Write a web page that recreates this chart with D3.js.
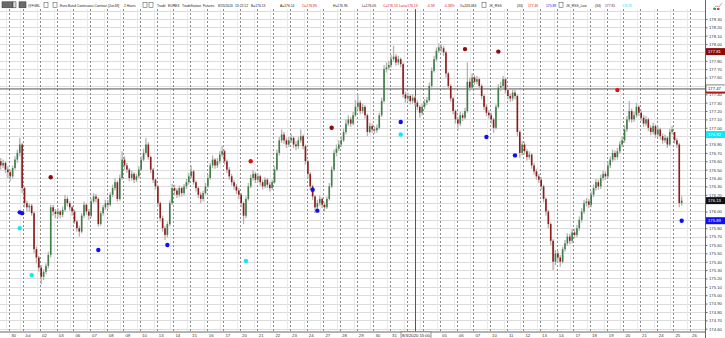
<!DOCTYPE html>
<html><head><meta charset="utf-8">
<script src="https://cdn.jsdelivr.net/npm/d3@7"></script>
<style>html,body{margin:0;padding:0;background:#fff;overflow:hidden}svg{display:block}</style>
</head><body><svg id="c" width="725" height="338"></svg>
<script>
// ---------- DATA ----------
const dayLabels = ["30","Jul","02","03","06","07","08","09","10","13","14","15","16","17","20","21","22","23","24","27","28","29","30","31","Aug","04","05","06","07","10","11","12","13","14","17","18","19","20","21","24","25","26"];
const dayFirstBar = [4,10,17,24,31,38,45,52,59,66,73,80,87,94,101,108,115,122,129,136,143,150,157,164,171,178,185,192,199,206,213,220,227,234,241,248,255,262,269,276,283,290];

const opens = [
176.60,176.55,176.58,176.50,
176.47,176.42,176.52,176.62,176.70,176.80,
176.28,176.10,176.05,176.07,175.98,175.55,175.45,
175.33,175.22,175.28,175.35,175.48,176.05,176.00,
175.97,176.00,175.96,176.02,176.15,176.10,176.05,
176.00,175.88,175.80,175.76,175.95,176.08,176.00,
175.95,176.12,176.18,176.15,175.85,175.98,176.05,
176.10,176.08,176.20,176.28,176.35,176.15,176.40,
176.62,176.55,176.50,176.40,176.45,176.38,176.42,
176.50,176.62,176.70,176.80,176.65,176.50,176.38,
176.30,176.10,175.92,175.80,175.72,175.85,176.10,
176.28,176.25,176.20,176.28,176.22,176.30,176.35,
176.42,176.48,176.35,176.28,176.20,176.15,176.22,
176.30,176.40,176.55,176.62,176.55,176.60,176.68,
176.72,176.60,176.50,176.42,176.35,176.30,176.25,
176.20,176.10,175.95,176.15,176.30,176.40,176.45,
176.38,176.42,176.35,176.30,176.38,176.32,176.28,
176.35,176.50,176.70,176.85,176.92,176.85,176.80,
176.85,176.88,176.80,176.78,176.85,176.90,176.78,
176.60,176.45,176.30,176.18,176.05,176.10,176.15,
176.08,176.05,176.15,176.30,176.50,176.70,176.75,
176.80,176.85,176.95,177.05,177.10,177.05,177.15,
177.25,177.30,177.20,177.25,177.15,176.95,177.02,
176.98,176.97,177.00,177.15,177.32,177.70,177.72,
177.75,177.82,177.85,177.78,177.82,177.76,177.40,
177.35,177.38,177.32,177.36,177.30,177.25,177.18,
177.25,177.30,177.33,177.50,177.68,177.82,177.92,
177.96,177.95,177.90,177.65,177.50,177.35,177.20,
177.10,177.05,177.15,177.12,177.20,177.55,177.48,
177.60,177.55,177.58,177.50,177.38,177.25,177.18,
177.15,177.10,177.00,177.25,177.48,177.50,177.58,
177.45,177.38,177.35,177.42,177.38,176.95,176.70,
176.80,176.72,176.65,176.68,176.55,176.48,176.42,
176.38,176.30,176.15,176.00,175.85,175.65,175.40,
175.50,175.45,175.40,175.55,175.62,175.70,175.65,
175.75,175.72,175.80,175.90,176.00,176.10,176.12,
176.08,176.20,176.28,176.35,176.30,176.40,176.45,
176.42,176.55,176.62,176.70,176.65,176.72,176.80,
176.85,176.98,177.10,177.20,177.10,177.15,177.25,
177.18,177.12,177.05,177.10,177.00,176.95,177.02,
176.92,176.98,176.90,176.85,176.88,176.80,176.95,
176.95,176.85,176.80,176.10];

const highs = [
176.64,176.62,176.60,176.54,
176.50,176.55,176.66,176.74,176.88,176.82,
176.30,176.13,176.10,176.09,176.00,175.58,175.47,
175.36,175.31,175.38,175.52,176.08,176.08,176.03,
176.04,176.02,176.06,176.20,176.18,176.12,176.07,
176.02,175.90,175.83,175.98,176.12,176.10,176.03,
176.15,176.22,176.21,176.17,176.01,176.08,176.14,
176.14,176.23,176.32,176.40,176.37,176.44,176.72,
176.66,176.58,176.52,176.49,176.47,176.45,176.54,
176.66,176.75,176.88,176.83,176.67,176.52,176.40,
176.32,176.12,175.95,175.83,175.88,176.13,176.33,
176.32,176.28,176.31,176.30,176.33,176.39,176.46,
176.55,176.50,176.37,176.30,176.23,176.25,176.34,
176.44,176.58,176.67,176.64,176.64,176.72,176.78,
176.74,176.62,176.53,176.45,176.38,176.33,176.28,
176.22,176.12,176.18,176.34,176.44,176.50,176.47,
176.46,176.44,176.38,176.41,176.40,176.35,176.38,
176.54,176.74,176.89,176.98,176.95,176.88,176.89,
176.93,176.90,176.84,176.89,176.98,176.92,176.80,
176.62,176.47,176.32,176.20,176.14,176.19,176.17,
176.11,176.18,176.34,176.54,176.74,176.80,176.85,
176.90,176.99,177.10,177.15,177.13,177.19,177.33,
177.40,177.33,177.29,177.27,177.17,177.06,177.05,
177.02,177.04,177.18,177.36,177.75,177.78,177.80,
177.87,177.98,177.88,177.86,177.84,177.78,177.43,
177.42,177.40,177.40,177.38,177.33,177.27,177.29,
177.34,177.37,177.54,177.72,177.86,177.96,178.01,
178.00,177.98,177.92,177.67,177.52,177.37,177.22,
177.13,177.19,177.18,177.24,177.78,177.60,177.65,
177.63,177.62,177.60,177.52,177.40,177.28,177.21,
177.18,177.12,177.28,177.52,177.55,177.62,177.60,
177.48,177.41,177.46,177.45,177.40,176.97,176.84,
176.83,176.75,176.72,176.70,176.58,176.51,176.45,
176.41,176.32,176.17,176.02,175.87,175.67,175.54,
175.53,175.48,175.58,175.66,175.74,175.73,175.79,
175.79,175.84,175.94,176.04,176.14,176.16,176.15,
176.24,176.32,176.39,176.38,176.44,176.49,176.48,
176.59,176.66,176.74,176.73,176.76,176.84,176.90,
177.03,177.14,177.32,177.23,177.19,177.30,177.27,
177.21,177.15,177.14,177.12,177.03,177.06,177.04,
177.02,177.00,176.93,176.92,176.90,176.99,177.02,
176.95,176.88,176.82,176.18];

const lows = [
176.50,176.52,176.46,176.40,
176.36,176.39,176.50,176.58,176.66,176.22,
176.05,176.00,176.00,175.95,175.50,175.38,175.28,
175.13,175.18,175.25,175.32,175.45,175.95,175.92,
175.93,175.92,175.93,176.00,176.06,176.01,175.95,
175.85,175.76,175.70,175.74,175.92,175.96,175.90,
175.93,176.10,176.11,175.82,175.83,175.95,176.02,
176.03,176.06,176.17,176.25,176.12,176.13,176.38,
176.50,176.46,176.36,176.37,176.34,176.35,176.40,
176.48,176.60,176.68,176.62,176.46,176.34,176.26,
176.06,175.88,175.76,175.66,175.69,175.83,176.08,
176.20,176.16,176.17,176.18,176.19,176.27,176.32,
176.40,176.32,176.24,176.16,176.10,176.12,176.20,
176.28,176.38,176.52,176.51,176.52,176.57,176.65,
176.56,176.46,176.38,176.31,176.26,176.21,176.15,
176.05,175.85,175.92,176.13,176.28,176.37,176.34,
176.35,176.31,176.26,176.28,176.28,176.24,176.26,
176.33,176.48,176.67,176.82,176.81,176.76,176.77,
176.82,176.76,176.73,176.75,176.82,176.74,176.56,
176.40,176.26,176.14,175.98,176.02,176.07,176.04,
176.00,176.03,176.13,176.28,176.48,176.66,176.72,
176.77,176.83,176.92,177.02,177.01,177.03,177.13,
177.22,177.16,177.17,177.11,176.90,176.93,176.94,
176.93,176.94,176.98,177.13,177.30,177.66,177.69,
177.72,177.79,177.74,177.75,177.72,177.36,177.30,
177.31,177.28,177.29,177.26,177.21,177.12,177.15,
177.22,177.27,177.31,177.48,177.66,177.79,177.89,
177.91,177.86,177.60,177.46,177.31,177.16,177.05,
176.97,177.02,177.08,177.10,177.18,177.44,177.45,
177.51,177.52,177.46,177.34,177.21,177.14,177.11,
177.05,176.94,176.98,177.23,177.44,177.47,177.41,
177.34,177.31,177.32,177.34,176.90,176.64,176.67,
176.68,176.61,176.62,176.51,176.44,176.38,176.34,
176.26,176.11,175.95,175.80,175.60,175.30,175.36,
175.40,175.34,175.38,175.52,175.59,175.61,175.62,
175.68,175.69,175.77,175.87,175.97,176.06,176.04,
176.05,176.17,176.25,176.26,176.27,176.37,176.38,
176.40,176.52,176.59,176.61,176.62,176.69,176.77,
176.82,176.95,177.07,177.06,177.07,177.12,177.14,
177.08,177.01,177.02,176.96,176.91,176.92,176.88,
176.89,176.86,176.81,176.82,176.76,176.78,176.92,
176.81,176.76,176.05,176.07];

const closes = [
176.55,176.58,176.50,176.47,
176.42,176.52,176.62,176.70,176.80,176.28,
176.10,176.05,176.07,175.98,175.55,175.45,175.33,
175.22,175.28,175.35,175.48,176.05,176.00,175.97,
176.00,175.96,176.02,176.15,176.10,176.05,176.00,
175.88,175.80,175.76,175.95,176.08,176.00,175.95,
176.12,176.18,176.15,175.85,175.98,176.05,176.10,
176.08,176.20,176.28,176.35,176.15,176.40,176.62,
176.55,176.50,176.40,176.45,176.38,176.42,176.50,
176.62,176.70,176.80,176.65,176.50,176.38,176.30,
176.10,175.92,175.80,175.72,175.85,176.10,176.28,
176.25,176.20,176.28,176.22,176.30,176.35,176.42,
176.48,176.35,176.28,176.20,176.15,176.22,176.30,
176.40,176.55,176.62,176.55,176.60,176.68,176.72,
176.60,176.50,176.42,176.35,176.30,176.25,176.20,
176.10,175.95,176.15,176.30,176.40,176.45,176.38,
176.42,176.35,176.30,176.38,176.32,176.28,176.35,
176.50,176.70,176.85,176.92,176.85,176.80,176.85,
176.88,176.80,176.78,176.85,176.90,176.78,176.60,
176.45,176.30,176.18,176.05,176.10,176.15,176.08,
176.05,176.15,176.30,176.50,176.70,176.75,176.80,
176.85,176.95,177.05,177.10,177.05,177.15,177.25,
177.30,177.20,177.25,177.15,176.95,177.02,176.98,
176.97,177.00,177.15,177.32,177.70,177.72,177.75,
177.82,177.85,177.78,177.82,177.76,177.40,177.35,
177.38,177.32,177.36,177.30,177.25,177.18,177.25,
177.30,177.33,177.50,177.68,177.82,177.92,177.96,
177.95,177.90,177.65,177.50,177.35,177.20,177.10,
177.05,177.15,177.12,177.20,177.55,177.48,177.60,
177.55,177.58,177.50,177.38,177.25,177.18,177.15,
177.10,177.00,177.25,177.48,177.50,177.58,177.45,
177.38,177.35,177.42,177.38,176.95,176.70,176.80,
176.72,176.65,176.68,176.55,176.48,176.42,176.38,
176.30,176.15,176.00,175.85,175.65,175.40,175.50,
175.45,175.40,175.55,175.62,175.70,175.65,175.75,
175.72,175.80,175.90,176.00,176.10,176.12,176.08,
176.20,176.28,176.35,176.30,176.40,176.45,176.42,
176.55,176.62,176.70,176.65,176.72,176.80,176.85,
176.98,177.10,177.20,177.10,177.15,177.25,177.18,
177.12,177.05,177.10,177.00,176.95,177.02,176.92,
176.98,176.90,176.85,176.88,176.80,176.95,176.98,
176.85,176.80,176.10,176.13];

// indicator dots: [bar index, price]
const rssHighDots = [[21,176.41],[139,177.00],[195,177.94],[209,177.91]];     // dark red
const rssDots = [[105,176.60],[259,177.45]];                                   // red
const rssLowDots = [[8,175.99],[9,175.98],[41,175.54],[70,175.60],[131,176.26],[133,176.01],[168,177.07],[204,176.89],[216,176.67],[286,175.89]]; // blue
const rssLowLowDots = [[8,175.80],[13,175.24],[103,175.41],[168,176.92]];      // cyan

const yTicks = [174.60,174.70,174.80,174.90,175.00,175.10,175.20,175.30,175.40,175.50,175.60,175.70,175.80,175.90,176.00,176.10,176.20,176.30,176.40,176.50,176.60,176.70,176.80,176.90,177.00,177.10,177.20,177.30,177.40,177.50,177.60,177.70,177.80,177.90,178.00,178.10,178.20,178.30];
const gridExtra = [178.40];

// right-axis value flags: [label, price]  (the 177.45 flag is hidden under the crosshair flag)
const flagLabels = ["177.81","","177.47","176.92","176.13","175.89"];
const flagPrices = [177.91,177.45,177.47,176.92,176.13,175.89];

const crossBar = 174, crossPrice = 177.47, crossDate = "8/3/2020 15:00";

const headerTexts = ["@FGBL","Euro Bund Continuous Contract [Jun18]","2 Hours","Trade","EUREX","TradeStation","Futures","8/25/2020","13:22:12","B=176.13","A=176.14","O=176.95","H=176.95","L=176.05","C=176.13","Last=176.13","-0.59","-0.33%","V=243,084","JK_RSS","(34)","177.45","175.89","JK_RSS_Low","(34)","177.81","176.92"];

// ---------- LAYOUT / STYLE ----------
const headerX = [28,60,124,157,168,182,203,218,235,251,280,302,333,362,383,399,427,444,460,489,517,528,546,566,595,605,622];
const RED="#e01010", BLUE="#1010ee", MAROON="#8b0a0a", CYAN="#10e8f8";
const headerColors = headerTexts.map((t,i)=>[11,14,15,16,17,21].includes(i)?RED:(i===22?BLUE:(i===25?MAROON:(i===26?CYAN:"#222"))));
const flagFill = [MAROON, RED, "#fff", CYAN, "#111", BLUE];
const flagText = ["#fff","#fff","#111","#fff","#fff","#fff"];

const svg = d3.select("#c");
const plotL=0, plotR=705, plotT=9, plotB=331.5;
const x = d3.scaleLinear().domain([0,286]).range([0.71,681.67]);
const y = d3.scaleLinear().domain([174.60,178.10]).range([328.7,35.7]);
const FONT = "Liberation Sans, Arial, sans-serif";

svg.append("rect").attr("width",725).attr("height",338).attr("fill","#fff");
svg.append("defs").append("clipPath").attr("id","clip").append("rect")
  .attr("x",plotL).attr("y",plotT).attr("width",plotR-plotL).attr("height",plotB-plotT);

const plot = svg.append("g").attr("clip-path","url(#clip)");

// horizontal grid
plot.selectAll("line.hg").data(yTicks.concat(gridExtra)).enter().append("line")
  .attr("x1",plotL).attr("x2",plotR).attr("y1",d=>Math.round(y(d))+0.5).attr("y2",d=>Math.round(y(d))+0.5)
  .attr("stroke","#dcdcdc").attr("stroke-width",1);

// light vertical lines
plot.selectAll("line.lv").data(dayFirstBar).enter().append("line")
  .attr("x1",d=>Math.round(x(d-0.5))-2.5).attr("x2",d=>Math.round(x(d-0.5))-2.5)
  .attr("y1",plotT).attr("y2",plotB).attr("stroke","#e9e9e9").attr("stroke-width",1);

// dashed day separators
plot.selectAll("line.dv").data(dayFirstBar).enter().append("line")
  .attr("x1",d=>Math.round(x(d-0.5))+0.5).attr("x2",d=>Math.round(x(d-0.5))+0.5)
  .attr("y1",plotT).attr("y2",plotB).attr("stroke","#8a8a8a").attr("stroke-width",1)
  .attr("stroke-dasharray","2,2");

// crosshair
plot.append("line").attr("x1",plotL).attr("x2",plotR)
  .attr("y1",y(crossPrice)+0.5).attr("y2",y(crossPrice)+0.5).attr("stroke","#555").attr("stroke-width",1);
plot.append("line").attr("x1",x(crossBar)+0.5).attr("x2",x(crossBar)+0.5)
  .attr("y1",plotT).attr("y2",plotB).attr("stroke","#555").attr("stroke-width",1);

// candles
const idx = d3.range(closes.length);
plot.selectAll("rect.wick").data(idx).enter().append("rect")
  .attr("x",i=>x(i)-0.65).attr("width",1.3)
  .attr("y",i=>y(highs[i])).attr("height",i=>Math.max(0.8,y(lows[i])-y(highs[i])))
  .attr("fill","#b3b3b3");
plot.selectAll("rect.body").data(idx).enter().append("rect")
  .attr("x",i=>x(i)-0.8).attr("width",1.6)
  .attr("y",i=>y(Math.max(opens[i],closes[i])))
  .attr("height",i=>Math.max(0.8,Math.abs(y(opens[i])-y(closes[i]))))
  .attr("fill",i=>closes[i]>=opens[i]?"#3f7e45":"#8e1a1a");

// dots
function dots(data,color){
  plot.selectAll(null).data(data).enter().append("circle")
    .attr("cx",d=>x(d[0])).attr("cy",d=>y(d[1])).attr("r",2.2).attr("fill",color);
}
dots(rssHighDots,MAROON); dots(rssDots,RED); dots(rssLowDots,BLUE); dots(rssLowLowDots,CYAN);

// axes lines
svg.append("line").attr("x1",0).attr("x2",plotR).attr("y1",plotB+0.5).attr("y2",plotB+0.5).attr("stroke","#666");
svg.append("line").attr("x1",plotR+0.5).attr("x2",plotR+0.5).attr("y1",0).attr("y2",338).attr("stroke","#666");

// y axis (labels covered by a value flag are not drawn, as in the reference)
const ya = d3.axisRight(y).tickValues(yTicks).tickFormat(d3.format(".2f")).tickSize(2).tickPadding(1.5);
const yg = svg.append("g").attr("transform",`translate(${plotR+0.5},0)`).call(ya);
yg.select(".domain").remove();
yg.selectAll("line").attr("stroke","#666");
yg.selectAll("text").attr("font-family",FONT).attr("font-size",4.2).attr("fill","#333")
  .filter(d=>flagPrices.some((p,i)=>flagLabels[i] && Math.abs(y(p)-y(d))<5.5)).remove();

// crosshair date label box span (layout)
const cx = x(crossBar);
const boxL = cx-14, boxR = cx+16;

// x axis (labels hidden under the crosshair date box are not drawn, as in the reference)
const shownTicks = dayFirstBar.map((d,i)=>[d-0.5,dayLabels[i]]).filter(t=>{const px=x(t[0])+4; return px<boxL-3||px>boxR+3;});
const xa = d3.axisBottom(x).tickValues(shownTicks.map(t=>t[0])).tickFormat((d,i)=>shownTicks[i][1]).tickSize(0).tickPadding(2);
const xg = svg.append("g").attr("transform",`translate(0,${plotB+0.5})`).call(xa);
xg.select(".domain").remove();
xg.selectAll("text").attr("font-family",FONT).attr("font-size",4.3).attr("fill","#333").attr("dx",4);

// flags on right axis
flagLabels.forEach((t,i)=>{
  const cy = y(flagPrices[i]);
  svg.append("rect").attr("x",plotR+1).attr("y",cy-3.5).attr("width",20).attr("height",7)
    .attr("fill",flagFill[i]).attr("stroke",i===2?"#333":"none").attr("stroke-width",0.6);
  if (t) svg.append("text").attr("x",plotR+3).attr("y",cy+1.5).text(t)
    .attr("font-family",FONT).attr("font-size",4.2).attr("fill",flagText[i]);
});

svg.append("rect").attr("x",boxL).attr("y",plotB+0.5).attr("width",boxR-boxL).attr("height",6.5)
  .attr("fill","#fff").attr("stroke","#555").attr("stroke-width",0.6);
svg.append("text").attr("x",cx+1).attr("y",plotB+5.3).attr("text-anchor","middle").text(crossDate)
  .attr("font-family",FONT).attr("font-size",4.2).attr("fill","#222");

// header
const hg = svg.append("g");
hg.append("rect").attr("x",0).attr("y",0).attr("width",plotR).attr("height",plotT).attr("fill","#fff");
hg.append("rect").attr("x",2).attr("y",1.8).attr("width",11).attr("height",6).attr("fill","#6b6b6b").attr("stroke","#333").attr("stroke-width",0.5);
hg.append("rect").attr("x",13).attr("y",1.8).attr("width",3).attr("height",6).attr("fill","#ddd").attr("stroke","#333").attr("stroke-width",0.5);
hg.append("rect").attr("x",19).attr("y",1.8).attr("width",7).attr("height",6).attr("fill","#6b6b6b").attr("stroke","#333").attr("stroke-width",0.5);
[44,53,143,149,482,559].forEach(px=>{
  hg.append("rect").attr("x",px).attr("y",2.3).attr("width",4).attr("height",5).attr("fill","#fff").attr("stroke","#444").attr("stroke-width",0.5);
});
headerTexts.forEach((t,i)=>{
  hg.append("text").attr("x",headerX[i]).attr("y",6.6).text(t)
    .attr("font-family",FONT).attr("font-size",3.35).attr("fill",headerColors[i]);
});
// top-right icon
svg.append("polyline").attr("points","713,9 716,6 719,7 722,3").attr("fill","none").attr("stroke","#777").attr("stroke-width",0.6);
svg.append("rect").attr("x",713.5).attr("y",8).attr("width",2.5).attr("height",2).attr("fill","#2e9e3e");
svg.append("rect").attr("x",717).attr("y",8).attr("width",2.5).attr("height",2).attr("fill","#e04040");
</script></body></html>
